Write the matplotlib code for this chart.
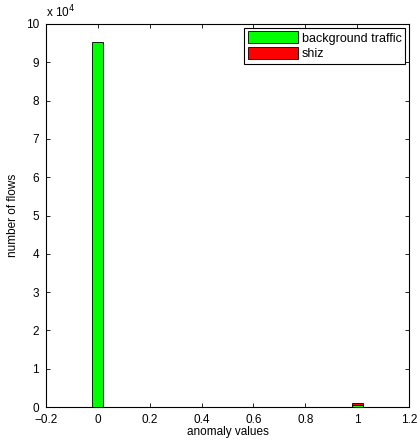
import numpy as np
import matplotlib.pyplot as plt

plt.rcParams['font.family'] = ['Liberation Sans', 'DejaVu Sans']

# bin centers and counts
centers = [0.0, 1.0]
background = [95200, 600]
shiz = [0, 1100]
bar_w = 0.042

fig = plt.figure(figsize=(4.17, 4.43), dpi=100)
ax = fig.add_axes([0.110, 0.081, 0.871, 0.865])

ax.bar(centers, background, width=bar_w, color='#00ff00', edgecolor='black',
       linewidth=0.6, label='background traffic', zorder=3)
ax.bar(centers, shiz, width=bar_w, color='#ff0000', edgecolor='black',
       linewidth=0.6, label='shiz', zorder=2)

ax.set_xlim(-0.2, 1.2)
ax.set_ylim(0, 100000)
ax.set_xticks(np.arange(-0.2, 1.21, 0.2))
ax.set_xticklabels(['\u22120.2', '0', '0.2', '0.4', '0.6', '0.8', '1', '1.2'])
ax.set_yticks(np.arange(0, 100001, 10000))
ax.set_yticklabels([str(i) for i in range(11)])
ax.tick_params(direction='in', top=True, right=True, labelsize=8.5, length=3, width=0.6)
ax.tick_params(axis='x', pad=5)
ax.tick_params(axis='y', pad=5)
for s in ax.spines.values():
    s.set_linewidth(0.8)

ax.text(0.0, 1.01, 'x 10$^{4}$', transform=ax.transAxes, fontsize=8.5, ha='left', va='bottom')
ax.set_xlabel('anomaly values', fontsize=8.5, labelpad=0)
ax.set_ylabel('number of flows', fontsize=8.5, labelpad=5)

leg = ax.legend(loc='upper right', fontsize=9, fancybox=False, framealpha=1,
                edgecolor='black', handlelength=4.0, handleheight=1.1,
                borderpad=0.3, labelspacing=0.15, handletextpad=0.3,
                borderaxespad=0.3)
leg.get_frame().set_linewidth(0.8)

fig.savefig('out.png', dpi=100)
